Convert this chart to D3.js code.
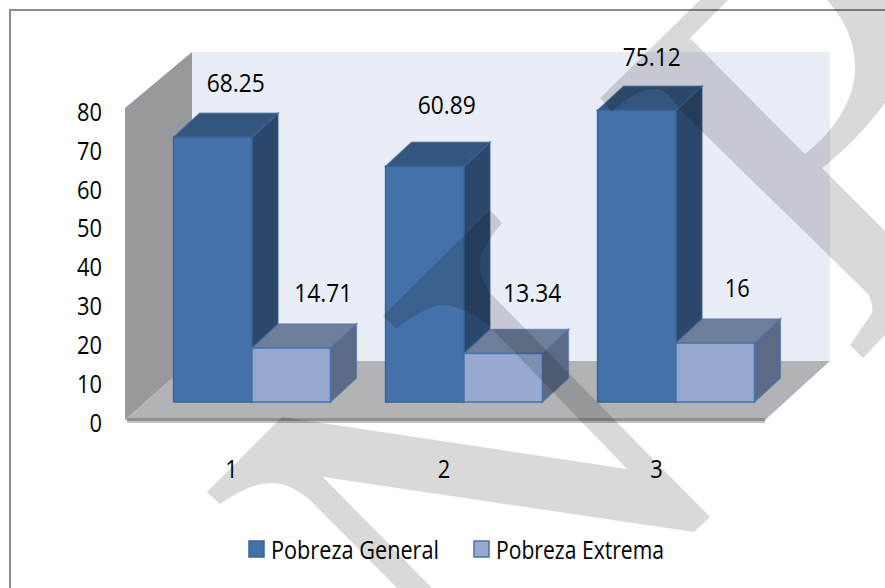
<!DOCTYPE html>
<html>
<head>
<meta charset="utf-8">
<script src="https://cdn.jsdelivr.net/npm/d3@7"></script>
<style>
  html, body { margin: 0; padding: 0; background: #fff; }
  text { font-family: "Open Sans", sans-serif; fill: #000; }
</style>
</head>
<body>
<script>
const categories = ["1", "2", "3"];
const seriesNames = ["Pobreza General", "Pobreza Extrema"];
const pobrezaGeneral = [68.25, 60.89, 75.12];
const pobrezaExtrema = [14.71, 13.34, 16];
const yTicks = [0, 10, 20, 30, 40, 50, 60, 70, 80];

const width = 885, height = 588;
const fontSize = 26;

// the reference font is narrower than anything installed, so squeeze numbers to its width
const numberWidth = s => String(s).split("").reduce((w, c) => w + (c === "." ? 8 : 12.5), 0);

const colors = {
  "Pobreza General": { front: "#4471a9", top: "#33557e", side: "#2b486c", edge: "#3a6396" },
  "Pobreza Extrema": { front: "#95a9d1", top: "#6e7f9b", side: "#5c6a85", edge: "#4a72a8" }
};

const svg = d3.select("body").append("svg")
  .attr("width", width)
  .attr("height", height)
  .style("display", "block");

// walls and floor of the 3d box
const wall = { left: 125, back: 192, right: 765, backRight: 830, top: 52, frontTop: 108, floorBack: 361, floorFront: 420 };

svg.append("rect")
  .attr("x", wall.back).attr("y", wall.top)
  .attr("width", wall.backRight - wall.back)
  .attr("height", wall.floorBack - wall.top)
  .attr("fill", "#e9edf6");

svg.append("polygon")
  .attr("points", [[wall.left, wall.frontTop], [wall.back, wall.top], [wall.back, wall.floorBack], [wall.left, wall.floorFront]].join(" "))
  .attr("fill", "#97999c");

svg.append("polygon")
  .attr("points", [[wall.left, wall.floorFront], [wall.back, wall.floorBack], [wall.backRight, wall.floorBack], [wall.right, wall.floorFront]].join(" "))
  .attr("fill", "#b1b3b6");

svg.append("rect").attr("x", wall.left + 2).attr("y", 418).attr("width", wall.right - wall.left - 2).attr("height", 3).attr("fill", "#8f9092");
svg.append("rect").attr("x", wall.left + 2).attr("y", 421).attr("width", wall.right - wall.left - 2).attr("height", 2).attr("fill", "#c2c3c5");

// scales
const x = d3.scaleBand().domain(categories).range([146, 782]).paddingInner(0.26).paddingOuter(0.13);
const xSeries = d3.scaleBand().domain(seriesNames).range([0, x.bandwidth()]);
const xLabels = d3.scalePoint().domain(categories).range([231, 656]);
const yAxisScale = d3.scaleLinear().domain([0, 80]).range([423, 112]);
const yBar = d3.scaleLinear().domain([0, 80]).range([406, 91]);
const barBase = 402, depthX = 26, depthY = 24;

// axes
const yAxis = svg.append("g")
  .attr("transform", "translate(102,0)")
  .call(d3.axisLeft(yAxisScale).tickValues(yTicks).tickSize(0).tickPadding(0));
yAxis.select(".domain").remove();

const xAxis = svg.append("g")
  .attr("transform", "translate(0,460)")
  .call(d3.axisBottom(xLabels).tickSize(0).tickPadding(0));
xAxis.select(".domain").remove();

svg.selectAll(".tick text")
  .style("font-size", fontSize + "px")
  .style("font-family", '"Open Sans", sans-serif')
  .attr("fill", "#000")
  .attr("textLength", d => numberWidth(d))
  .attr("lengthAdjust", "spacingAndGlyphs");

// bars, one group per category so the light bar sits over the dark side
const rows = categories.flatMap((c, i) => [
  { cat: c, name: seriesNames[0], value: pobrezaGeneral[i] },
  { cat: c, name: seriesNames[1], value: pobrezaExtrema[i] }
]);

const bars = svg.selectAll("g.bar")
  .data(rows)
  .enter().append("g")
  .attr("class", "bar");

const left = d => x(d.cat) + xSeries(d.name);
const right = d => left(d) + xSeries.bandwidth();

bars.append("polygon")
  .attr("points", d => [[right(d), yBar(d.value)], [right(d) + depthX, yBar(d.value) - depthY], [right(d) + depthX, barBase - depthY], [right(d), barBase]].join(" "))
  .attr("fill", d => colors[d.name].side)
  .attr("stroke", d => colors[d.name].edge)
  .attr("stroke-opacity", 0.6)
  .attr("stroke-width", 1.5);

bars.append("polygon")
  .attr("points", d => [[left(d), yBar(d.value)], [left(d) + depthX, yBar(d.value) - depthY], [right(d) + depthX, yBar(d.value) - depthY], [right(d), yBar(d.value)]].join(" "))
  .attr("fill", d => colors[d.name].top)
  .attr("stroke", d => colors[d.name].edge)
  .attr("stroke-opacity", 0.6)
  .attr("stroke-width", 1.5);

bars.append("rect")
  .attr("x", left)
  .attr("y", d => yBar(d.value))
  .attr("width", xSeries.bandwidth())
  .attr("height", d => barBase - yBar(d.value))
  .attr("fill", d => colors[d.name].front)
  .attr("stroke", d => colors[d.name].edge)
  .attr("stroke-width", 1.5);

// value labels, the original ones are nudged by hand so follow that
const labelShift = {
  "1|Pobreza General": [23, -21], "2|Pobreza General": [22, -28], "3|Pobreza General": [15, -20],
  "1|Pobreza Extrema": [32, -22], "2|Pobreza Extrema": [29, -27], "3|Pobreza Extrema": [22, -22]
};

svg.selectAll("text.value")
  .data(rows)
  .enter().append("text")
  .attr("class", "value")
  .attr("text-anchor", "middle")
  .attr("x", d => (left(d) + right(d)) / 2 + labelShift[d.cat + "|" + d.name][0])
  .attr("y", d => yBar(d.value) - depthY + labelShift[d.cat + "|" + d.name][1])
  .attr("textLength", d => numberWidth(d.value))
  .attr("lengthAdjust", "spacingAndGlyphs")
  .style("font-size", fontSize + "px")
  .text(d => d.value);

// legend
const legendX = d3.scaleOrdinal().domain(seriesNames).range([249, 474]);
const legend = svg.selectAll("g.legend")
  .data(seriesNames)
  .enter().append("g")
  .attr("class", "legend")
  .attr("transform", d => "translate(" + legendX(d) + ",541)");

legend.append("rect")
  .attr("width", 15)
  .attr("height", 16)
  .attr("fill", d => colors[d].front)
  .attr("stroke", d => colors[d].edge)
  .attr("stroke-width", 1.5);

legend.append("text")
  .attr("x", 22)
  .attr("y", 18)
  .attr("textLength", 168)
  .attr("lengthAdjust", "spacingAndGlyphs")
  .style("font-size", fontSize + "px")
  .text(d => d);

// frame
svg.append("path")
  .attr("d", "M10,588V10H885")
  .attr("fill", "none")
  .attr("stroke", "#8c8c8c")
  .attr("stroke-width", 2);

// watermark letters over everything
const watermark = [
  "M600,98 L700,0 L728,0 L690,38 L805,154 C835,130 855,100 855,67 C855,40 843,18 827,0 L885,0 L885,103",
  "C865,130 845,150 822,168 L885,231 L885,335 L863,358 L850,345 L872,313 C873,305 871,298 867,293 L680,110",
  "C675,103 670,93 660,90 C645,85 625,100 612,112 Z",
  "M383,316 L490,210 L502,223 C488,240 478,255 480,267 C481,278 485,287 492,295 L710,517 L694,532",
  "L323,477 L432,588 L397,588 L310,500 C298,490 285,483 272,483 C255,483 235,493 220,504 L207,492 L282,417",
  "L627,469 L493,330 C478,315 460,306 443,305 C430,305 415,316 396,328 Z"
].join(" ");

svg.append("path")
  .attr("d", watermark)
  .attr("fill", "#000")
  .attr("fill-opacity", 0.15);
</script>
</body>
</html>
